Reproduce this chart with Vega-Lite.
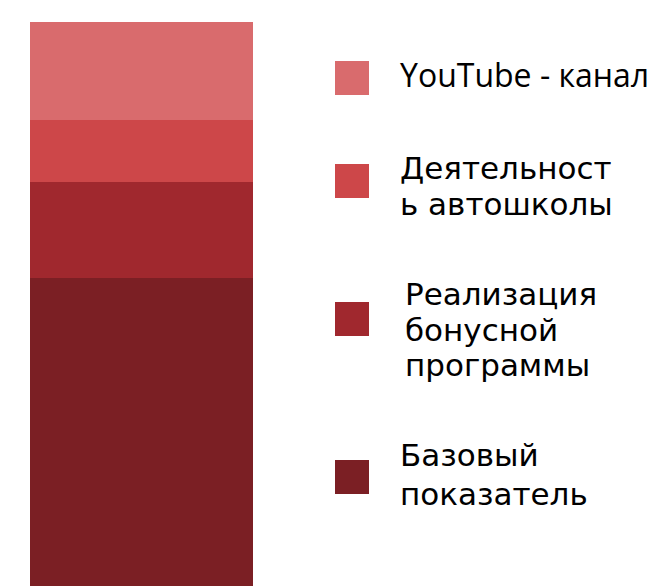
{
  "$schema": "https://vega.github.io/schema/vega-lite/v6.json",
  "width": 223,
  "height": 564,
  "autosize": "none",
  "padding": {"left": 30, "top": 22, "right": 405, "bottom": 0},
  "background": "white",
  "data": {
    "values": [
      {"group": "A", "name": "YouTube - канал", "n": 1, "value": 98},
      {"group": "A", "name": "Деятельность автошколы", "n": 2, "value": 62},
      {"group": "A", "name": "Реализация бонусной программы", "n": 3, "value": 96},
      {"group": "A", "name": "Базовый показатель", "n": 4, "value": 308}
    ]
  },
  "mark": {"type": "bar"},
  "encoding": {
    "x": {"field": "group", "type": "nominal", "axis": null, "scale": {"paddingInner": 0, "paddingOuter": 0}},
    "y": {"field": "value", "type": "quantitative", "stack": "zero", "axis": null, "scale": {"domain": [0, 564], "nice": false}},
    "order": {"field": "n", "sort": "descending"},
    "color": {
      "field": "name",
      "type": "nominal",
      "scale": {
        "domain": ["YouTube - канал", "Деятельность автошколы", "Реализация бонусной программы", "Базовый показатель"],
        "range": ["#d96b6d", "#cd4749", "#a0282e", "#7b1f24"]
      },
      "legend": {
        "orient": "none",
        "legendX": 305,
        "legendY": 39,
        "title": null,
        "padding": 0,
        "symbolType": "square",
        "symbolSize": 1156,
        "symbolStrokeWidth": 0,
        "labelFont": "DejaVu Sans",
        "labelFontSize": 31,
        "labelColor": "black",
        "labelLimit": 0,
        "labelOffset": 31,
        "labelBaseline": "middle",
        "rowPadding": 59,
        "labelExpr": "datum.label == 'Деятельность автошколы' ? ['Деятельност', 'ь автошколы'] : datum.label == 'Реализация бонусной программы' ? ['Реализация', 'бонусной', 'программы'] : datum.label == 'Базовый показатель' ? ['Базовый', 'показатель'] : datum.label",
        "labelFlush": false,
        "encode": {
          "labels": {
            "update": {
              "lineHeight": {"signal": "datum.value == 'Базовый показатель' ? 39 : 35.5"},
              "font": {"signal": "datum.value == 'YouTube - канал' ? 'Open Sans' : 'DejaVu Sans'"},
              "fontSize": {"signal": "datum.value == 'YouTube - канал' ? 32 : 31"},
              "dy": {"signal": "datum.value == 'Деятельность автошколы' ? -11 : datum.value == 'Реализация бонусной программы' ? -23 : datum.value == 'Базовый показатель' ? -20 : -1"},
              "dx": {"signal": "datum.value == 'Реализация бонусной программы' ? 5 : 0"}
            }
          }
        }
      }
    }
  },
  "config": {"view": {"stroke": null}}
}
